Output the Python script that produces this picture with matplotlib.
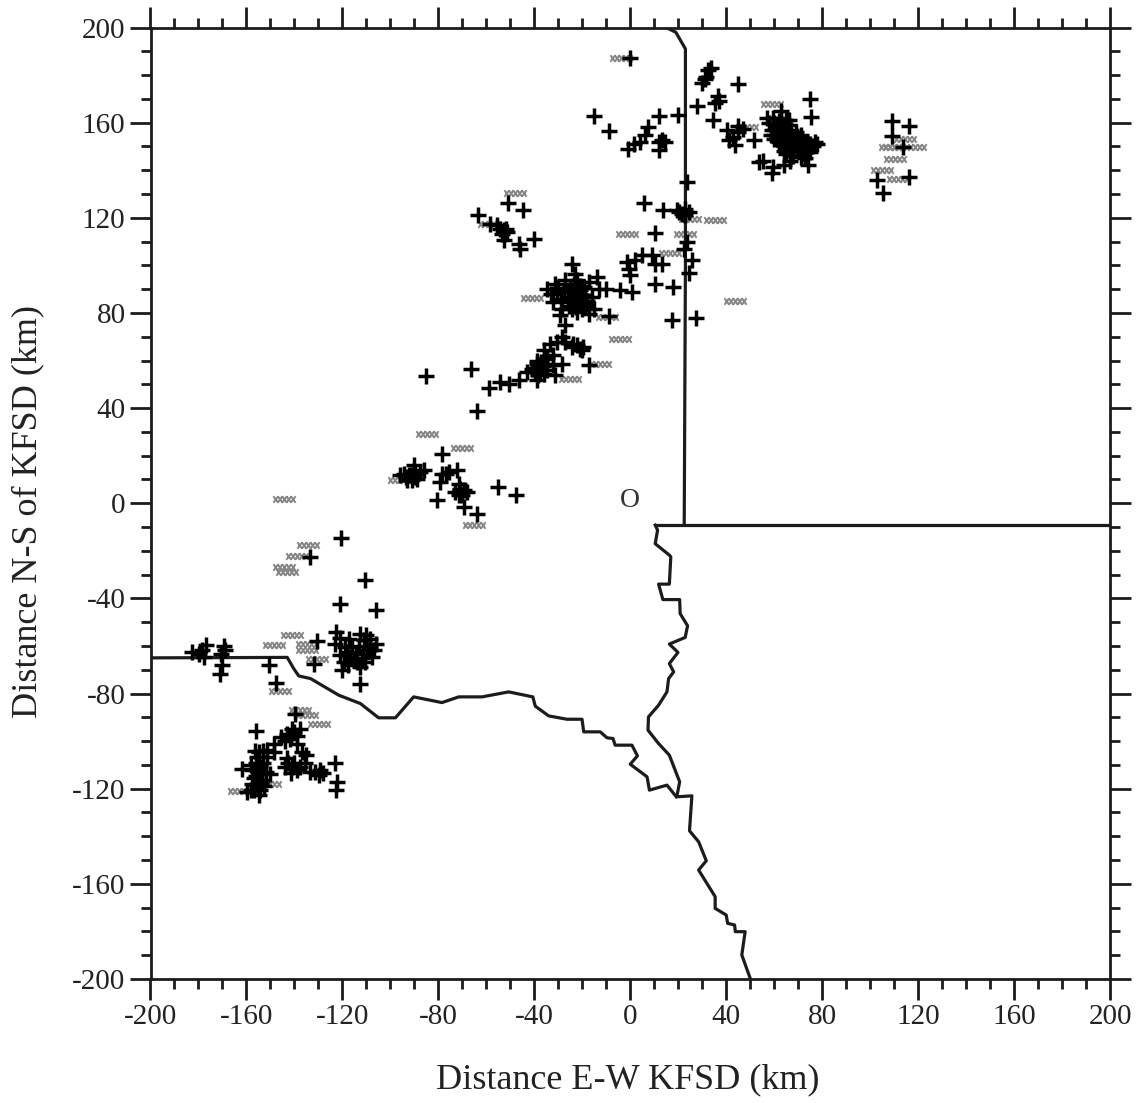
import matplotlib
matplotlib.use('Agg')
import matplotlib.pyplot as plt
from matplotlib.path import Path
from matplotlib.ticker import MultipleLocator

plt.rcParams['font.family'] = ['Liberation Serif', 'DejaVu Serif']
plt.rcParams['axes.unicode_minus'] = False

# black + events, km E-W of KFSD
plus_top = [(0,187),(-15.3,162.6),(-9,156.4),(-1.1,149),(1.4,151),(4.2,152),(7.6,158),(12,162.6),(6.2,155),(11.8,148.3),
 (14.6,152),(11.8,151.8),(13.2,152.5),(20.1,163.4),(28,167),(29.9,176.6),(31.5,179),(32.6,182),(33.6,183),(31,178.4),
 (44.9,176.4),(36.4,171.4),(35.4,168.3),(36.8,169.3),(34.3,161.3),(40.3,156.7),(45.1,158.8),(47.2,157.4),(45.1,156),
 (43,153.9),(41,152.9),(43.7,150.7),(51.4,152.9),(57,162),(59,157),(60,160),(61,155),(62,158),(63,162),(64,156),(65,153),
 (66,159),(67,157),(62,152),(64,150),(66,149),(68,152),(68,148),(70,150),(72,147),(70,153),(73,152),(75,151),(77,152),
 (78,151),(74,149),(71,155),(69,156),(63,165),(66,161),(60,153),(65,147),(67,146),(74.3,142.4),(75,170),(75.4,162.3),
 (53.5,143.4),(59,139),(63.9,142),(55.5,144),(59.7,141.3),(66.7,144),(109,160.5),(116,158.8),(109,154.3),(113.6,149.7),
 (116,137),(103,135.7),(105.3,130.5),
 (58,160),(59.5,162),(61,158),(62,160.5),(64,159),(65,161),(58.5,155),(60,157),(63,154),(65,156),(67,154.5),(61,153),
 (63,151),(65,151),(67,150.5),(69,151),(71,151.5),(72,149.5),(74,151),(76,150),(73,147.5),(70,148),(68,146),(71,145.5),
 (73,145),(75,147.5),(69,153.5),(66,155),(62,156),(60,155),(66,152.5),(64,148)]
plus_mid = [(23.6,135),(5.8,126.2),(13.6,123.1),(19.4,123.4),(22.9,123.8),(24.3,122.4),(21.5,121.7),(10.4,113.7),(23.6,109.8),
 (22.2,107),(9,104.2),(10.4,100.7),(13.2,100.7),(25.7,102.1),(24.3,96.8),(4.9,104.2),(2.1,102.1),(-1.4,101.4),(-0.7,98.6),
 (0,95.8),(0.7,88.8),(-4.2,89.5),(-10,90.2),(-13.9,95.1),(10.4,92),(17.8,90.9),(17.4,76.9),(27.5,77.9),(-24.3,100.7),
 (-9,78.7),(-34.7,90.2),(-31.3,92.3),(-30.6,88.8),(-32,84.6),(-28.5,81.8),(-27.1,93.7),(-25,90.9),(-22.2,93.7),(-19.4,90.9),
 (-17.4,93),(-23.6,87.4),(-20.8,86.7),(-18.8,87.4),(-22.2,83.9),(-20.1,81.8),(-17.4,79.7),(-15.3,81.8),(-25,84.6),(-24.3,81.8),
 (-13.2,90.2),(-22.9,96.5),(-27.8,89.5),(-16,86.7),(-20.8,89.5),(-18.1,83.9),(-29.2,79),(-27.1,74.8),(-28.5,69.9),
 (-33.3,67),(-30.6,67.8),(-27.1,67.8),(-24.3,65.7),(-20.1,64.3),(-22.2,66.4),(-36.1,64.3),(-17.4,58),(-28.5,58.7),(-32,62.2),
 (-32,58),(-36.1,60.8),(-38.9,58.7),(-37.5,57.3),(-41,56.6),(-43,55.2),(-38.9,51.7),(-34.7,55.9),(-31.3,53.8),(-39.6,55.2),
 (-36.1,54.5),(-46.5,51.7),(-50.7,50.3),(-54.2,51),(-59,48.6),(-23.9,67.1),(-66.3,56.6),(-85.1,53.4),(-63.9,38.8),
 (-51,126.2),(-44.9,123.1),(-63.5,121.3),(-58.3,117.5),(-55.6,116.8),(-52.8,114.7),(-51.4,114),(-52.8,110.5),(-46.5,109),
 (-45.8,107),(-40.3,110.9),(-54.2,115.4),
 (-23,85.5),(-21.5,88),(-20,84.5),(-24,89),(-26,86.5),(-19,82.5),(-22,80.5),(-18,85),(-21,91.5),(-23.5,92),(-25.5,83),
 (-33,88),(-30,90.5),(-29,86),(-20,87.5),(-22.5,82.5),(-38,57.5),(-39,60),(-36.5,57.5),(-37.5,55),(-40,57),(-35,58.5),
 (-37,59.5),(-38.5,54),(-34.5,61),(-21,65),(-19.5,65.5),(-52,115.5),(-53.5,113),(-91.5,12),(-93.5,11),(-90,11),(-71,5.5),
 (-69.5,5.5),(-71.5,3.5),(20.5,122.5),(23,121)]
plus_low = [(-78.5,20.6),(-90.3,15.9),(-94.5,12.5),(-92.4,11.8),(-89.6,12.5),(-91,9.7),(-93,9.7),(-87.5,13.2),(-86.1,13.9),
 (-78.5,12.5),(-79.2,9),(-75.7,13.2),(-72.2,13.9),(-80.5,1.2),(-71.5,8.3),(-70.8,6.1),(-72.9,4.7),(-70.1,3.3),(-69.4,-1.6),
 (-63.9,-4.4),(-55.3,6.8),(-47.5,3.3),(-68,4.7),(-77,12.5),(-95.8,11.8),(-88.9,10.4)]
plus_sw = [(-120.4,-14.8),(-133.3,-22.5),(-110.4,-32.1),(-120.8,-42.4),(-105.8,-45),(-182.6,-62.5),(-177,-59.7),(-179.8,-63.2),
 (-177.8,-64.6),(-168.8,-61.8),(-170.8,-63.2),(-170.1,-68),(-171.2,-71.6),(-150.4,-67.8),(-147.6,-75.4),(-130.5,-58),
 (-131.9,-67.4),(-122.6,-54),(-122.9,-59),(-117.3,-56.9),(-112.5,-54.8),(-111.1,-57.6),(-108.3,-60.4),(-106.2,-59),
 (-107.6,-64.6),(-110.4,-66.7),(-113.9,-66.7),(-116.7,-64.6),(-119.4,-66.7),(-120.1,-70.2),(-112.5,-75.8),(-112.5,-68.8),
 (-118,-62.5),(-120.8,-63.9),(-115.3,-65.3),(-109.7,-61.8),(-139.6,-88.4),(-156.2,-95.7),(-137.5,-94.7),(-140.3,-96.1),
 (-143,-96.8),(-145.8,-98.2),(-148.6,-101),(-151.4,-103.8),(-154.9,-104.5),(-138.9,-101),(-148.6,-104.5),(-136.8,-104.5),
 (-135.4,-109.4),(-143,-107.3),(-140.3,-109.4),(-143.8,-110.8),(-141.6,-113.6),(-137.5,-110.8),(-133.3,-112.9),(-129.2,-112.2),
 (-129.9,-114.3),(-123.2,-109.1),(-122.2,-117.1),(-122.5,-120.6),(-161.8,-111.9),(-155.5,-106.6),(-156.2,-109.4),(-154.2,-110.8),
 (-157.6,-112.2),(-154.9,-113.6),(-157,-115.7),(-153.5,-116.4),(-156.2,-118.5),(-158.3,-120.6),(-154.2,-120.6),(-154.9,-122.7),
 (-152,-112.9),(-159.7,-121.3),(-151.4,-106.6),(-157,-120.6),
 (-155.5,-112),(-153,-109),(-156,-114.5),(-154,-117.5),(-157.5,-118),(-155,-119.5),(-152.5,-119),(-156.5,-104),(-153,-104),
 (-158,-110),(-150,-114),(-141,-95),(-139,-98),(-142,-99),(-144,-100),(-141,-111),(-139,-112),(-142.5,-109),(-131.5,-113),
 (-128,-113.5),(-135,-106),(-113,-60),(-114.5,-63),(-116,-60.5),(-111.5,-63.5),(-108.5,-57),(-110,-55.5),(-117.5,-68),
 (-121,-56.5),(-112,-65),(-107,-61.5),(-119,-60.5),(-178.5,-61.5),(-169.5,-60)]

# grey hatched events
grey_events = [(-4,187),(59.3,168),(48.6,158),(114.6,153),(108.3,149.7),(110,149.7),(118.7,149.7),(110.4,144.8),(104.9,140.3),(111.8,136.4),
 (-47.9,130.4),(-1.3,113.3),(25,119.6),(35.4,118.9),(22.9,113.3),(16.7,105.2),(-41,86.4),(-4.2,68.9),(-12.5,58.7),(-25,52.4),
 (-9.7,78.3),(-59,117.5),(43.5,85),(-84.7,29.3),(-70.1,23.2),(-65.3,-9),(-96.5,9.6),(-144.4,1.7),(-134.3,-17.6),(-138.9,-22.1),
 (-144.4,-27),(-143,-28.9),(-148.6,-59.4),(-141.2,-55.5),(-134.7,-59),(-134.7,-61.8),(-130.6,-65.5),(-146.2,-78.9),(-137.5,-87),
 (-134.7,-89),(-129.9,-92.9),(-150,-118),(-163,-121)]

# state boundaries
panhandle_east = [(16,199.5),(19,198),(23,191),(23,100),(22.5,-9.3)]
texas_north = [(11,-9.2),(200,-9.2)]
red_river = [(10.4,-9.2),(11.4,-11.3),(10.4,-17),(16.3,-21.8),(16.9,-22.5),(16.3,-34),(11.8,-34),(13.6,-40.5),(20.6,-40.5),
 (20.8,-46.4),(23.9,-51.5),(22.9,-56.4),(16.3,-59.2),(19.9,-62.7),(16.3,-67.4),(18.1,-70.9),(16,-73.7),(15.3,-79.3),(11.8,-84.9),
 (7.6,-89.8),(7.4,-95.4),(11.8,-101),(16.3,-105.9),(20.6,-117.1),(19.4,-123.4),(25.7,-123),(24.7,-137.7),(28.5,-142.3),
 (31.7,-150.3),(28.5,-154.2),(35.4,-165.4),(35.4,-170.3),(40,-173.1),(40.6,-176.6),(43.5,-177.3),(43.8,-180.1),(47.9,-180.1),
 (46.5,-189.9),(50,-199.7)]
south_border = [(-200,-65),(-143,-64.8),(-140.3,-69.5),(-138.2,-72.6),(-133.3,-73.7),(-121.5,-80.7),(-112.5,-84.2),(-104.9,-90.2),
 (-97.9,-90.2),(-90.3,-81.4),(-78.5,-83.8),(-71.5,-81.4),(-61.8,-81.4),(-50.7,-79.3),(-40.6,-81.4),(-39.6,-85.3),(-34,-89.4),
 (-26.4,-90.8),(-20.1,-90.8),(-19.4,-96.1),(-12.5,-96.1),(-9.7,-98.6),(-7.2,-98.9),(-6.3,-101.7),(0.7,-101.7),(3,-106.2),
 (0,-109.7),(7,-115),(8,-120.6),(15.3,-118.5),(19.2,-123.4)]

x_ticks = [-200,-160,-120,-80,-40,0,40,80,120,160,200]
y_ticks = [-200,-160,-120,-80,-40,0,40,80,120,160,200]
x_label = 'Distance E-W KFSD (km)'
y_label = 'Distance N-S of KFSD (km)'
origin_label = 'O'

W, H = 1139, 1103
fig = plt.figure(figsize=(W/100, H/100), dpi=100, facecolor='white')
L, R, T, B = 150.5, 1110, 27.5, 979
ax = fig.add_axes([L/W, 1-B/H, (R-L)/W, (B-T)/H])
ax.set_xlim(-200, 200)
ax.set_ylim(-200, 200)

INK = '#1c1c1c'

# hatched-strip marker: a row of five small crosses
verts, codes = [], []
for i in range(5):
    cx = -0.8 + 0.4*i
    for a, b in (((cx-0.22, -0.3), (cx+0.22, 0.3)), ((cx-0.22, 0.3), (cx+0.22, -0.3))):
        verts += [a, b]
        codes += [Path.MOVETO, Path.LINETO]
strip = Path(verts, codes)

gx, gy = zip(*grey_events)
ax.plot(gx, gy, ls='none', marker=strip, ms=16, mew=1.4, mec='#858585', mfc='none', zorder=2)

for line in (panhandle_east, texas_north, red_river, south_border):
    lx, ly = zip(*line)
    ax.plot(lx, ly, color=INK, lw=2.3, solid_joinstyle='round', zorder=3)

px, py = zip(*(plus_top + plus_mid + plus_low + plus_sw))
ax.plot(px, py, ls='none', marker='+', ms=11, mew=2.5, color='black', zorder=4)

ax.text(0, 1, origin_label, fontsize=20, color='#333333', ha='center', va='center')

ax.xaxis.set_major_locator(plt.FixedLocator(x_ticks))
ax.yaxis.set_major_locator(plt.FixedLocator(y_ticks))
ax.xaxis.set_minor_locator(MultipleLocator(10))
ax.yaxis.set_minor_locator(MultipleLocator(10))
ax.tick_params(which='major', direction='out', length=15, width=2.0, color=INK,
               top=True, right=True, labelsize=21, labelcolor='#222222', pad=3)
ax.tick_params(which='minor', direction='out', length=7.5, width=2.0, color=INK, top=True, right=True)
for s in ax.spines.values():
    s.set_linewidth(2.0)
    s.set_color(INK)

ax.set_xlabel(x_label, fontsize=26, color='#222222')
ax.set_ylabel(y_label, fontsize=26, color='#222222')
ax.xaxis.set_label_coords((628-L)/(R-L), -(1080-B)/(B-T), transform=ax.transAxes)
ax.yaxis.set_label_coords(-(L-28)/(R-L), (B-511)/(B-T), transform=ax.transAxes)
ax.xaxis.label.set_va('center')
ax.yaxis.label.set_va('center')

fig.savefig('out.png', dpi=100, facecolor='white')
